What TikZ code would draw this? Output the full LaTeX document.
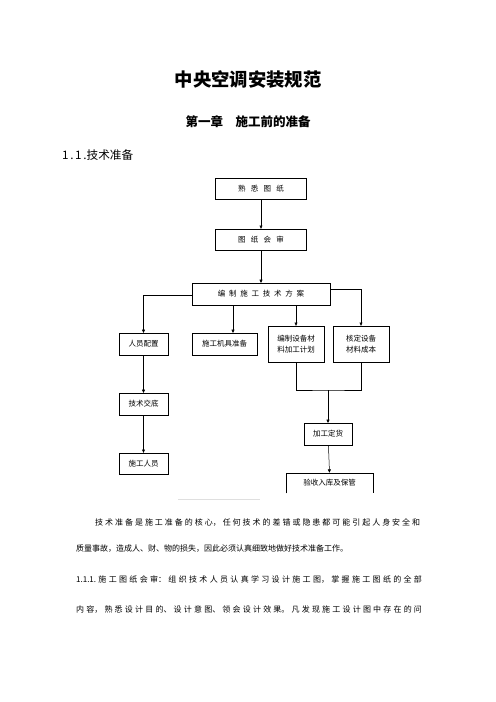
\documentclass[tikz,border=0pt]{standalone}
\usepackage{fontspec}
\setmainfont{Noto Sans CJK SC}
\usetikzlibrary{arrows.meta,positioning,calc}
\XeTeXlinebreaklocale "zh"
\XeTeXlinebreakskip=0pt plus 1fil
\newcommand{\gp}{\hspace{0.7em}}
\newcommand{\gq}{\hspace{0.5em}}

\begin{document}
\begin{tikzpicture}[x=1.2pt,y=-1.2pt,
  box/.style={draw,line width=0.6pt,inner sep=0pt,align=center,
    minimum height=26pt,font=\fontsize{9}{14}\selectfont},
  arr/.style={-{Triangle[length=4pt,width=3.6pt]},line width=0.6pt},
  line/.style={anchor=west,inner sep=0pt,font=\fontsize{9.6}{12}\selectfont}]
  \useasboundingbox (0,0) rectangle (496,702);
  % headings
  \node[font=\fontsize{22}{26}\selectfont\bfseries] (title) at (248,80) {中央空调安装规范};
  \node[font=\fontsize{15}{18}\selectfont\bfseries] (chapter) at (248,122) {第一章\quad 施工前的准备};
  \node[anchor=west,inner sep=0pt,font=\fontsize{14}{16}\selectfont] (sec) at (62,155)
    {1\hspace{2pt}.\hspace{2pt}1\hspace{2pt}.技术准备};
  % flow chart
  \node[box,minimum width=109pt,minimum height=25pt] (drawing) at (261,189) {熟\gp 悉\gp 图\gp 纸};
  \node[box,minimum width=109pt,minimum height=25pt] (review) at (261,239.5) {图\gp 纸\gp 会\gp 审};
  \node[box,minimum width=166pt] (plan) at (261,294) {编\gq 制\gq 施\gq 工\gq 技\gq 术\gq 方\gq 案};
  \node[box,minimum width=59pt] (staff) at (143.5,344) {人员配置};
  \node[box,minimum width=78pt] (tools) at (224.5,344) {施工机具准备};
  \node[box,minimum width=67pt,minimum height=43pt] (matplan) at (296,344) {编制设备材\\料加工计划};
  \node[box,minimum width=67pt,minimum height=43pt] (cost) at (361,344) {核定设备\\材料成本};
  \node[box,minimum width=59pt] (brief) at (143.5,404) {技术交底};
  \node[box,minimum width=59pt,minimum height=25pt] (crew) at (143.5,463.5) {施工人员};
  \node[box,minimum width=58pt] (order) at (328,434) {加工定货};
  \node[box,draw=none,minimum width=104pt,minimum height=24pt] (accept) at (329.5,483) {验收入库及保管};
  \draw[line width=0.6pt] (accept.south west) |- (accept.north east) -- (accept.south east);

  \coordinate (tx) at (233,0);
  \coordinate (mrg) at (328,390);
  \draw[arr] (drawing) -- (review);
  \draw[arr] (review) -- (plan);
  \draw[arr] ([yshift=-2pt]plan.west) -| (staff.north);
  \draw[arr] ([yshift=6pt]plan.east) -| (cost.north);
  \draw[arr] (plan.south -| tx) -- (tools.north -| tx);
  \draw[arr] (plan.south -| matplan.north) -- (matplan.north);
  \draw[arr] (staff) -- (brief);
  \draw[arr] (brief) -- (crew);
  \draw[line width=0.6pt] (matplan.south) |- (mrg) -| (cost.south);
  \draw[arr] (mrg) -- (order);
  \draw[arr] (order) -- (accept.north);
  \draw[gray!25,line width=0.6pt] (178,499) -- (260,499);

  % body text
  \node[line,text width=390pt] (l1) at (95,523)
    {\noindent\parfillskip=0pt 技术准备是施工准备的核心，任何技术的差错或隐患都可能引起人身安全和\par};
  \node[line] (l2) at (76,549) {质量事故，造成人、财、物的损失，因此必须认真细致地做好技术准备工作。};
  \node[line,text width=415pt] (l3) at (76,580)
    {\noindent\parfillskip=0pt 1.1.1.施工图纸会审：组织技术人员认真学习设计施工图，掌握施工图纸的全部\par};
  \node[line,text width=415pt] (l4) at (76,610)
    {\noindent\parfillskip=0pt 内容，熟悉设计目的、设计意图、领会设计效果。凡发现施工设计图中存在的问\par};
\end{tikzpicture}
\end{document}
